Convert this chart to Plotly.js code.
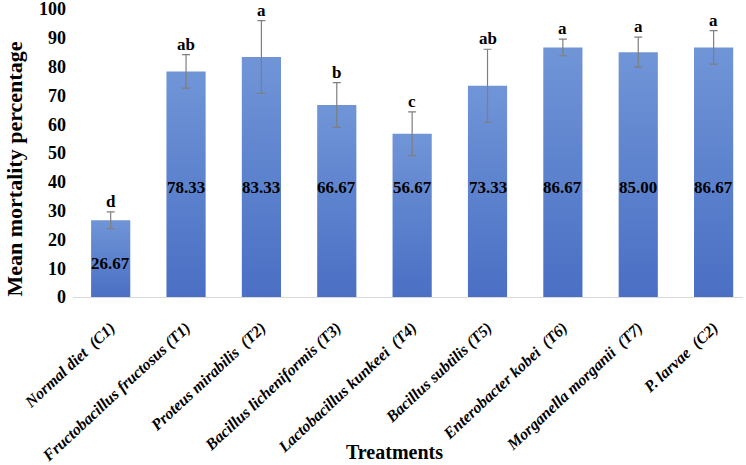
<!DOCTYPE html>
<html>
<head>
<meta charset="utf-8">
<script src="https://cdn.plot.ly/plotly-3.0.1.min.js"></script>
<style>
html, body { margin: 0; padding: 0; background: #fff; }
#chart { width: 746px; height: 465px; }
.trace.bars .point path { fill: url(#barGrad) !important; }
</style>
</head>
<body>
<svg width="0" height="0" style="position:absolute">
  <defs>
    <linearGradient id="barGrad" x1="0" y1="0" x2="0" y2="1">
      <stop offset="0" stop-color="#7095d7"/>
      <stop offset="1" stop-color="#4a6fc4"/>
    </linearGradient>
  </defs>
</svg>
<div id="chart"></div>
<script>
const treatments = [
  "Normal diet\u00a0 (C1)",
  "Fructobacillus fructosus (T1)",
  "Proteus mirabilis\u00a0 (T2)",
  "Bacillus licheniformis (T3)",
  "Lactobacillus kunkeei\u00a0 (T4)",
  "Bacillus subtilis (T5)",
  "Enterobacter kobei\u00a0 (T6)",
  "Morganella morganii\u00a0 (T7)",
  "P. larvae\u00a0 (C2)"
];
const mortality = [26.67, 78.33, 83.33, 66.67, 56.67, 73.33, 86.67, 85.00, 86.67];
const errors = [2.9, 5.8, 12.6, 7.8, 7.6, 12.7, 2.9, 5.2, 5.8];
const letters = ["d", "ab", "a", "b", "c", "ab", "a", "a", "a"];

const serif = "Liberation Serif, Times New Roman, serif";
const labelLevel = 38;

const annotations = [];
treatments.forEach((t, i) => {
  annotations.push({
    x: t, y: mortality[i] + errors[i], xref: "x", yref: "y",
    text: "<b>" + letters[i] + "</b>", showarrow: false,
    yanchor: "bottom", yshift: 0, borderpad: 0,
    font: {family: serif, size: 17, color: "#000"}
  });
  const ly = mortality[i] > labelLevel + 10 ? labelLevel : mortality[i] * 0.44;
  annotations.push({
    x: t, y: ly, xref: "x", yref: "y",
    text: "<b>" + mortality[i].toFixed(2) + "</b>", showarrow: false,
    yanchor: "middle",
    font: {family: serif, size: 17, color: "#000"}
  });
});
// axis titles
annotations.push({
  x: 0.48, y: -0.538, xref: "paper", yref: "paper", showarrow: false,
  yanchor: "middle",
  text: "<b>Treatments</b>", font: {family: serif, size: 20, color: "#000"}
});
annotations.push({
  x: -0.087, y: 0.445, xref: "paper", yref: "paper", showarrow: false,
  xanchor: "center", yanchor: "middle", textangle: -90, borderpad: 0,
  text: "<b>Mean mortality percentage</b>", font: {family: serif, size: 22, color: "#000"}
});

const trace = {
  type: "bar",
  x: treatments,
  y: mortality,
  marker: {color: "#5b80cc", line: {width: 0}},
  width: 0.52,
  error_y: {type: "data", array: errors, visible: true, color: "#7f7f7f", thickness: 1.2, width: 4},
  hoverinfo: "none"
};

const layout = {
  width: 746, height: 465,
  margin: {l: 73, r: 3, t: 9, b: 168},
  paper_bgcolor: "#fff", plot_bgcolor: "#fff",
  showlegend: false,
  font: {family: serif, color: "#000"},
  xaxis: {
    type: "category",
    range: [-0.5, 8.39],
    tickangle: -43,
    tickfont: {family: serif, size: 16, color: "#000", weight: "bold", style: "italic"},
    ticklabelstandoff: 14,
    showline: true, linecolor: "#d9d9d9", linewidth: 1,
    ticks: "", showgrid: false, zeroline: false,
    automargin: false
  },
  yaxis: {
    range: [0, 100], dtick: 10,
    showgrid: false, zeroline: false, showline: false, ticks: "",
    tickfont: {family: serif, size: 18, color: "#000", weight: "bold"},
    ticklabelstandoff: 6,
    ticklabeloverflow: "allow",
    automargin: false
  },
  annotations: annotations
};

Plotly.newPlot("chart", [trace], layout, {displayModeBar: false, staticPlot: true});
</script>
</body>
</html>
